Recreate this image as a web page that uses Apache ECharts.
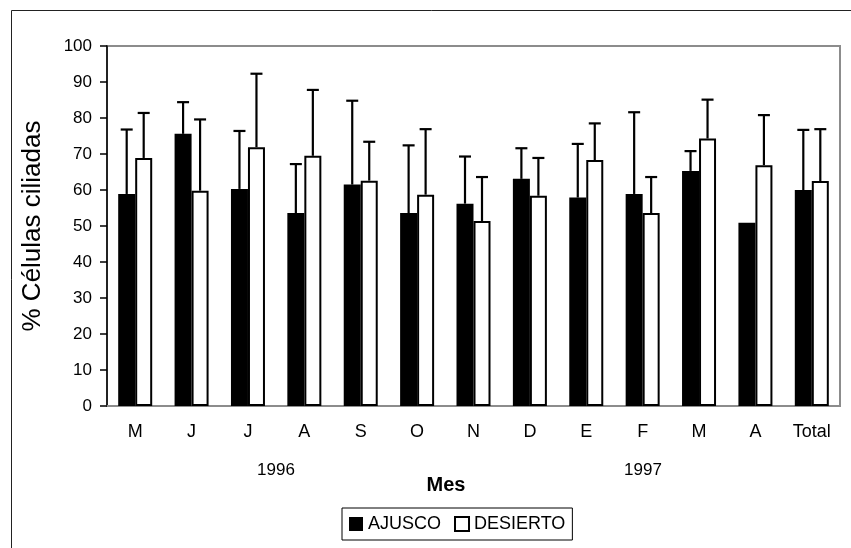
<!DOCTYPE html>
<html>
<head>
<meta charset="utf-8">
<script src="https://cdn.jsdelivr.net/npm/echarts@6/dist/echarts.min.js"></script>
<style>
html,body{margin:0;padding:0;background:#fff;}
#chart{width:851px;height:548px;}
</style>
</head>
<body>
<div id="chart"></div>
<script>
// Categories (months May 1996 - April 1997, plus Total)
var categories = ['M', 'J', 'J', 'A', 'S', 'O', 'N', 'D', 'E', 'F', 'M', 'A', 'Total'];
// Mean % ciliated cells
var ajusco   = [58.9, 75.6, 60.3, 53.6, 61.5, 53.6, 56.2, 63.1, 57.9, 58.9, 65.3, 50.9, 60.0];
var desierto = [68.9, 59.8, 71.9, 69.5, 62.6, 58.7, 51.4, 58.4, 68.3, 53.6, 74.3, 66.9, 62.5];
// Standard deviations (upper error bars)
var ajuscoSD   = [17.9, 8.8, 16.1, 13.6, 23.3, 18.8, 13.1, 8.5, 14.9, 22.7, 5.5, null, 16.7];
var desiertoSD = [12.5, 19.8, 20.4, 18.3, 10.8, 18.2, 12.2, 10.5, 10.2, 10.0, 10.8, 13.9, 14.4];
var yTicks = {min: 0, max: 100, interval: 10};
var yearLabels = ['1996', '1997'];

var FONT = 'Liberation Sans, Arial, sans-serif';
var BAR_W = 17;

function errData(means, sds) {
  var out = [];
  for (var i = 0; i < means.length; i++) {
    if (sds[i] == null) continue;
    out.push([i, means[i], means[i] + sds[i]]);
  }
  return out;
}

function errRenderer(offset) {
  return function (params, api) {
    var cat = api.value(0);
    var base = api.coord([cat, api.value(1)]);
    var top = api.coord([cat, api.value(2)]);
    var x = base[0] + offset;
    var cap = 6;
    var style = {stroke: '#000', lineWidth: 2.2};
    return {
      type: 'group',
      children: [
        {type: 'line', shape: {x1: x, y1: base[1], x2: x, y2: top[1]}, style: style},
        {type: 'line', shape: {x1: x - cap, y1: top[1], x2: x + cap, y2: top[1]}, style: style}
      ]
    };
  };
}

var chart = echarts.init(document.getElementById('chart'), null, {renderer: 'canvas'});
chart.setOption({
  animation: false,
  backgroundColor: '#fff',
  textStyle: {fontFamily: FONT, color: '#000'},
  grid: {
    left: 107, right: 11, top: 46, bottom: 142,
    show: true, borderColor: '#8c8c8c', borderWidth: 2,
    containLabel: false, outerBoundsMode: 'none'
  },
  legend: {
    left: 342, top: 508,
    orient: 'horizontal',
    itemWidth: 14, itemHeight: 14, itemGap: 13,
    padding: [7, 7, 7, 7],
    borderColor: '#000', borderWidth: 1,
    icon: 'rect',
    textStyle: {fontFamily: FONT, fontSize: 18, color: '#000'},
    data: [
      {name: 'AJUSCO', itemStyle: {color: '#000', borderColor: '#000', borderWidth: 0}},
      {name: 'DESIERTO', itemStyle: {color: '#fff', borderColor: '#000', borderWidth: 2}}
    ]
  },
  xAxis: {
    type: 'category',
    data: categories,
    axisLine: {show: true, lineStyle: {color: '#8c8c8c', width: 2}},
    axisTick: {show: false},
    axisLabel: {fontFamily: FONT, fontSize: 18, color: '#000', margin: 17, interval: 0},
    splitLine: {show: false}
  },
  yAxis: {
    type: 'value',
    min: yTicks.min, max: yTicks.max, interval: yTicks.interval,
    axisLine: {show: true, lineStyle: {color: '#000', width: 1.5}},
    axisTick: {show: true, inside: false, length: 7, lineStyle: {color: '#000', width: 1.5}},
    axisLabel: {fontFamily: FONT, fontSize: 17, color: '#000', margin: 15},
    splitLine: {show: false}
  },
  graphic: [
    {type: 'rect', silent: true, z: 100,
     shape: {x: 11.5, y: 10.5, width: 900, height: 600},
     style: {fill: 'none', stroke: '#222', lineWidth: 1}},
    {type: 'text', silent: true, x: 33, y: 226, rotation: Math.PI / 2,
     style: {text: '% Células ciliadas', fontFamily: FONT, fontSize: 26, fill: '#000',
             align: 'center', verticalAlign: 'middle'}},
    {type: 'text', silent: true, x: 276, y: 470,
     style: {text: yearLabels[0], fontFamily: FONT, fontSize: 17, fill: '#000',
             align: 'center', verticalAlign: 'middle'}},
    {type: 'text', silent: true, x: 643, y: 470,
     style: {text: yearLabels[1], fontFamily: FONT, fontSize: 17, fill: '#000',
             align: 'center', verticalAlign: 'middle'}},
    {type: 'text', silent: true, x: 446, y: 485,
     style: {text: 'Mes', fontFamily: FONT, fontSize: 20, fontWeight: 'bold', fill: '#000',
             align: 'center', verticalAlign: 'middle'}}
  ],
  series: [
    {
      name: 'AJUSCO', type: 'bar', data: ajusco,
      barWidth: BAR_W, barGap: '0%',
      itemStyle: {color: '#000', borderColor: '#000', borderWidth: 0},
      z: 2
    },
    {
      name: 'DESIERTO', type: 'bar', data: desierto,
      barWidth: BAR_W, barGap: '0%',
      itemStyle: {color: '#fff', borderColor: '#000', borderWidth: 2},
      z: 2
    },
    {
      name: 'errAJ', type: 'custom', data: errData(ajusco, ajuscoSD),
      renderItem: errRenderer(-BAR_W / 2), z: 5, silent: true,
      encode: {x: 0, y: [1, 2]}
    },
    {
      name: 'errDE', type: 'custom', data: errData(desierto, desiertoSD),
      renderItem: errRenderer(BAR_W / 2), z: 5, silent: true,
      encode: {x: 0, y: [1, 2]}
    }
  ]
});
</script>
</body>
</html>
